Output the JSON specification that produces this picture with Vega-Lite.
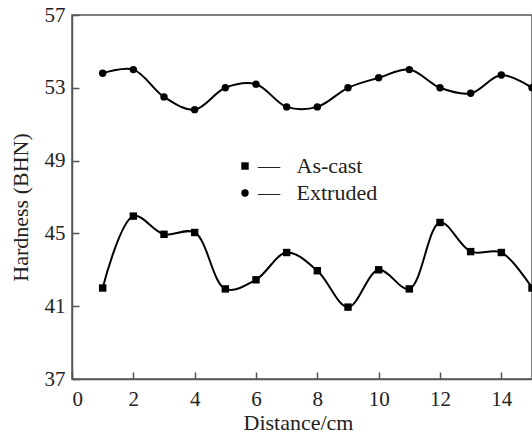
{
  "$schema": "https://vega.github.io/schema/vega-lite/v6.json",
  "autosize": {"type": "none"},
  "padding": {"left": 72, "top": 15, "right": 0, "bottom": 55},
  "width": 460,
  "height": 364,
  "background": "white",
  "config": {
    "font": "'Liberation Serif', 'Times New Roman', Times, serif",
    "view": {"stroke": "#555", "strokeWidth": 1.5},
    "axis": {
      "grid": false,
      "domainColor": "#555",
      "domainWidth": 1.5,
      "tickColor": "#555",
      "tickWidth": 1.5,
      "labelFont": "'Liberation Serif', 'Times New Roman', Times, serif",
      "titleFont": "'Liberation Serif', 'Times New Roman', Times, serif",
      "labelFontSize": 21,
      "titleFontSize": 22,
      "labelColor": "#222",
      "titleColor": "#222",
      "titleFontWeight": "normal"
    }
  },
  "data": {
    "values": [
      {"distance": 1, "hardness": 42.0, "series": "As-cast"},
      {"distance": 2, "hardness": 45.95, "series": "As-cast"},
      {"distance": 3, "hardness": 44.95, "series": "As-cast"},
      {"distance": 4, "hardness": 45.05, "series": "As-cast"},
      {"distance": 5, "hardness": 41.95, "series": "As-cast"},
      {"distance": 6, "hardness": 42.45, "series": "As-cast"},
      {"distance": 7, "hardness": 43.95, "series": "As-cast"},
      {"distance": 8, "hardness": 42.95, "series": "As-cast"},
      {"distance": 9, "hardness": 40.95, "series": "As-cast"},
      {"distance": 10, "hardness": 43.0, "series": "As-cast"},
      {"distance": 11, "hardness": 41.95, "series": "As-cast"},
      {"distance": 12, "hardness": 45.6, "series": "As-cast"},
      {"distance": 13, "hardness": 44.0, "series": "As-cast"},
      {"distance": 14, "hardness": 43.95, "series": "As-cast"},
      {"distance": 15, "hardness": 42.0, "series": "As-cast"},
      {"distance": 1, "hardness": 53.8, "series": "Extruded"},
      {"distance": 2, "hardness": 54.0, "series": "Extruded"},
      {"distance": 3, "hardness": 52.5, "series": "Extruded"},
      {"distance": 4, "hardness": 51.8, "series": "Extruded"},
      {"distance": 5, "hardness": 53.0, "series": "Extruded"},
      {"distance": 6, "hardness": 53.2, "series": "Extruded"},
      {"distance": 7, "hardness": 51.95, "series": "Extruded"},
      {"distance": 8, "hardness": 51.95, "series": "Extruded"},
      {"distance": 9, "hardness": 53.0, "series": "Extruded"},
      {"distance": 10, "hardness": 53.55, "series": "Extruded"},
      {"distance": 11, "hardness": 54.0, "series": "Extruded"},
      {"distance": 12, "hardness": 53.0, "series": "Extruded"},
      {"distance": 13, "hardness": 52.7, "series": "Extruded"},
      {"distance": 14, "hardness": 53.7, "series": "Extruded"},
      {"distance": 15, "hardness": 53.0, "series": "Extruded"}
    ]
  },
  "encoding": {
    "x": {
      "field": "distance",
      "type": "quantitative",
      "scale": {"domain": [0, 15], "nice": false, "zero": false},
      "axis": {
        "values": [0, 2, 4, 6, 8, 10, 12, 14],
        "tickSize": -7,
        "labelPadding": 16,
        "title": "Distance/cm",
        "titleX": 226,
        "titleY": 50,
        "titleBaseline": "alphabetic"
      }
    },
    "y": {
      "field": "hardness",
      "type": "quantitative",
      "scale": {"domain": [37, 57], "nice": false, "zero": false},
      "axis": {
        "values": [37, 41, 45, 49, 53, 57],
        "tickSize": -7,
        "labelPadding": 14,
        "title": "Hardness (BHN)",
        "titleX": -45,
        "titleY": 192,
        "titleAngle": -90,
        "titleBaseline": "alphabetic"
      }
    }
  },
  "layer": [
    {
      "mark": {"type": "line", "interpolate": "catmull-rom", "color": "black", "strokeWidth": 2},
      "encoding": {"detail": {"field": "series"}}
    },
    {
      "mark": {"type": "point", "filled": true, "color": "black", "opacity": 1, "size": 55},
      "encoding": {
        "shape": {
          "field": "series",
          "type": "nominal",
          "scale": {"domain": ["As-cast", "Extruded"], "range": ["square", "circle"]},
          "legend": {
            "title": null,
            "orient": "none",
            "legendX": 162,
            "legendY": 140,
            "symbolFillColor": "black",
            "symbolStrokeColor": "black",
            "symbolSize": 55,
            "labelFontSize": 22,
            "labelFont": "'Liberation Serif', 'Times New Roman', Times, serif",
            "labelColor": "#222",
            "labelOffset": 2,
            "rowPadding": 5,
            "labelExpr": "'\u2014\u00a0\u00a0\u00a0' + datum.label"
          }
        }
      }
    }
  ]
}
